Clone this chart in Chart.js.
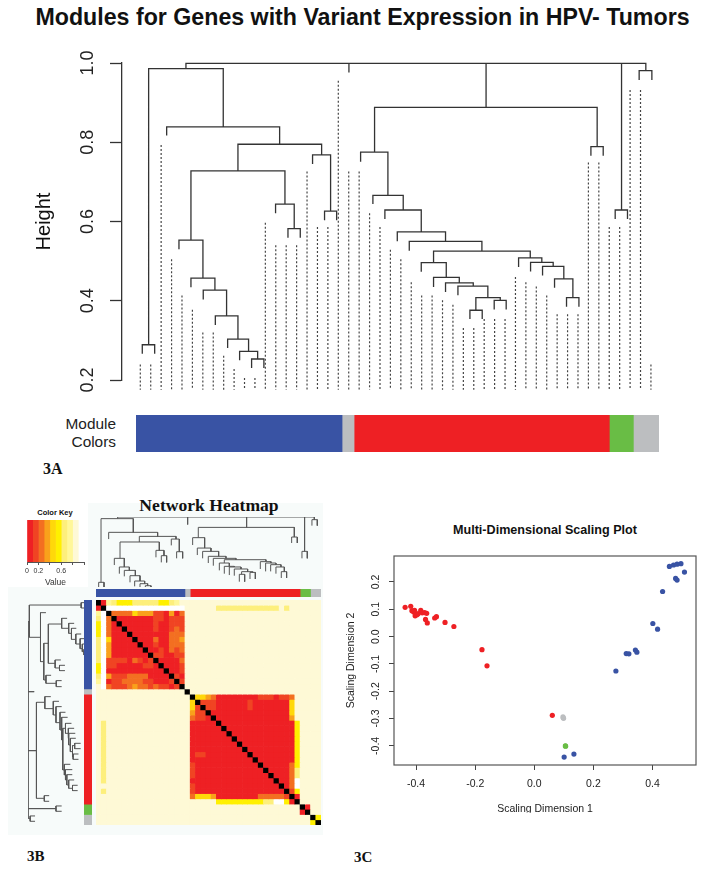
<!DOCTYPE html>
<html>
<head>
<meta charset="utf-8">
<script src="https://cdn.jsdelivr.net/npm/chart.js@4"></script>
<style>
  html, body { margin: 0; padding: 0; background: #fff; }
  body { position: relative; width: 704px; height: 872px; overflow: hidden; font-family: "Liberation Sans", Arial, sans-serif; color: #111; }
  canvas { position: absolute; display: block; }
  canvas.soft { filter: blur(.45px); }
  .txt { position: absolute; white-space: nowrap; line-height: 1; }
  .serif { font-family: "Liberation Serif", serif; font-weight: bold; color: #111; }
  .panel { position: absolute; }
</style>
</head>
<body>
<div class="panel" style="left:8px;top:503px;width:315px;height:332px;background:#f7fbfa"></div>
<div class="panel" style="left:8px;top:503px;width:80px;height:84px;background:#fff"></div>

<div class="txt" style="left:362.5px;top:6px;transform:translateX(-50%);font-size:23.2px;font-weight:bold">Modules for Genes with Variant Expression in HPV- Tumors</div>
<div class="txt" style="right:588px;top:416px;font-size:15.4px;color:#222">Module</div>
<div class="txt" style="right:588px;top:434px;font-size:15.4px;color:#222">Colors</div>
<div class="txt serif" style="left:43px;top:460.5px;font-size:16px">3A</div>
<div class="txt serif" style="left:209px;top:497px;transform:translateX(-50%);font-size:17.6px">Network Heatmap</div>
<div class="txt" style="left:55px;top:509px;transform:translateX(-50%);font-size:7.5px;font-weight:bold">Color Key</div>
<div class="txt serif" style="left:27px;top:849px;font-size:15px">3B</div>
<div class="txt serif" style="left:354px;top:850px;font-size:15px">3C</div>
<div class="txt" style="left:545px;top:524px;transform:translateX(-50%);font-size:12.6px;font-weight:bold">Multi-Dimensional Scaling Plot</div>

<canvas id="dendro" width="704" height="360" style="left:0;top:40px"></canvas>
<canvas id="moduleBar" width="523" height="37" style="left:136px;top:415px"></canvas>
<canvas id="colorKey" class="soft" width="87" height="70" style="left:12px;top:518px"></canvas>
<canvas id="topDendro" class="soft" width="225" height="72" style="left:96px;top:515px"></canvas>
<canvas id="topModules" class="soft" width="225" height="8" style="left:96px;top:589px"></canvas>
<canvas id="leftDendro" class="soft" width="60" height="225" style="left:25px;top:600px"></canvas>
<canvas id="leftModules" class="soft" width="8" height="225" style="left:84px;top:600px"></canvas>
<canvas id="heatmap" class="soft" width="225" height="225" style="left:96px;top:600px"></canvas>
<canvas id="mds" width="364" height="276" style="left:340px;top:540px"></canvas>
<div class="panel" style="left:490px;top:812.5px;width:110px;height:6px;background:#fff"></div>

<script>
// ── DATA ──
// Panel 3A: leaf heights left to right, the dotted drops
const leafTops = [.239, .239, .793, .505, .413, .377, .320, .320, .261, .228, .205, .205, .597, .54, .54, .54, .726, .586, .586, .955,
    .726, .726, .621, .586, .529, .505, .447, .413, .413, .401, .39, .331, .331, .354, .354, .354, .46, .447, .436, .413,
    .366, .366, .366, .749, .749, .586, .586, .932, .932, .239];
const leafBase = .1756;

// Panel 3A: merges, in leaf position and height
const branchLeft = [.19, 10.68, 9.53, 8.38, 7.20, 6.04, 4.86, 3.71, 14.17, 12.98, 4.86, 17.68, 16.53, 9.37, 2.53, .80, 4.38, 20.02, 33.18, 46.18,
    47.87, 45.57, 43.24, 22.48, 21.14, 22.32, 23.47, 24.66, 25.81, 28.14, 26.96, 28.14, 29.29, 30.48, 32.20, 31.63, 33.96, 36.30, 37.45, 38.60, 39.75, 40.90];
const branchRight = [1.38, 11.86, 11.26, 10.39, 9.37, 8.28, 7.16, 6.01, 15.35, 14.77, 13.88, 18.84, 18.26, 17.40, 13.37, 7.96, 48.51, 20.02, 33.18, 46.18,
    49.09, 46.75, 44.42, 43.84, 23.76, 25.23, 26.96, 29.29, 32.78, 37.42, 29.36, 30.61, 31.95, 33.35, 34.54, 32.81, 35.11, 38.53, 39.62, 40.64, 41.51, 42.09];
const branchHeight = [.289, .253, .272, .303, .362, .427, .457, .553, .582, .644, .728, .626, .768, .795, .839, .986, .999, .999, .999, .999,
    .981, .629, .789, .888, .775, .666, .629, .574, .550, .525, .496, .459, .445, .437, .408, .376, .401, .508, .497, .487, .455, .408];
const branchDropL = [.266, .230, .250, .281, .339, .403, .434, .530, .559, .621, .553, .603, .745, .728, .817, .289, .986, .976, .888, .629,
    .957, .606, .766, .775, .751, .644, .606, .550, .526, .496, .473, .435, .422, .414, .376, .354, .378, .485, .474, .464, .433, .385];
const branchDropR = [.266, .230, .253, .272, .303, .362, .427, .457, .559, .582, .644, .603, .626, .768, .795, .839, .981, .976, .888, .629,
    .957, .606, .766, .789, .666, .629, .574, .550, .525, .508, .459, .445, .437, .408, .401, .354, .378, .497, .487, .455, .408, .385];

// Panel 3B: the same tree over the 43 heatmap cells
const miniLeft = [.51, 9.43, 8.41, 7.39, 6.50, 5.41, 4.46, 3.50, 12.48, 11.46, 4.59, 15.41, 14.39, 8.28, 2.42, .96, 4.14, 17.52, 28.79, 39.87,
    41.27, 39.36, 37.39, 19.55, 18.47, 19.36, 20.38, 21.46, 22.42, 24.52, 23.57, 24.52, 25.48, 26.43, 27.83, 27.39, 29.43, 31.40, 32.42, 33.38, 34.39, 35.41];
const miniRight = [1.53, 10.51, 9.87, 9.30, 8.41, 7.52, 6.37, 5.41, 13.50, 12.99, 12.10, 16.56, 15.92, 15.29, 11.78, 7.13, 41.72, 17.52, 28.79, 39.87,
    42.29, 40.38, 38.47, 37.90, 20.76, 21.97, 23.44, 24.84, 26.75, 32.48, 25.48, 26.43, 27.71, 28.98, 29.94, 28.41, 30.45, 33.44, 34.39, 35.35, 35.99, 36.43];
const miniHeight = [.289, .252, .274, .303, .361, .419, .456, .550, .579, .637, .728, .622, .760, .789, .833, .982, 1, 1, 1, 1,
    .971, .626, .782, .887, .775, .662, .626, .572, .550, .535, .499, .463, .456, .434, .405, .376, .397, .514, .499, .481, .456, .405];
const miniDropL = [.238, .238, .238, .245, .289, .354, .383, .477, .506, .561, .550, .550, .691, .728, .760, .289, .982, .917, .887, .626,
    .906, .550, .717, .775, .695, .586, .550, .499, .470, .499, .419, .383, .368, .361, .376, .296, .325, .434, .408, .408, .383, .336];
const miniDropR = [.238, .238, .252, .274, .303, .361, .419, .456, .506, .579, .637, .550, .622, .760, .789, .833, .971, .917, .887, .626,
    .906, .550, .717, .782, .662, .626, .572, .550, .535, .517, .463, .456, .434, .405, .397, .296, .325, .499, .481, .456, .405, .336];

// Module colour bars
const moduleColors = ['#3953a4', '#bcbec0', '#ee2024', '#69bd45', '#bcbec0'];
const moduleSpans50 = [19.7, 1.15, 24.4, 2.3, 2.45];
const moduleSpans43 = [17, 1, 21, 2, 2];

// Colour key, one colour per 0.1 of value
const keyColors = ['#ee2024', '#f04423', '#f36f21', '#f9a11b', '#ffd80a', '#fff000', '#fdef7c', '#fff799', '#fef9d6', '#ffffff'];
const keyBins = [.1, .1, .1, .1, .1, .1, .1, .1, .1, .1];
const keyTickLabels = [0, .2, .6];

// Heatmap, upper triangle: each string starts right after the diagonal, digits are key bins,
// cells past the end of a string are bin 8
const heatRows = [
    '076555666665567',
    '999999999999999888888666666666666' + '86',
    '22224333110302',
    '0000000110111',
    '000000100111',
    '00000100121',
    '0000000222',
    '000200223',
    '00100222',
    '0010212',
    '110011',
    '00002',
    '0001',
    '001',
    '10',
    '1',
    '',
    '',
    '44320000000011101128',
    '1110000001000000048',
    '110000001000000048',
    '00000000000000048',
    '0000000000000038',
    '000000000000005',
    '00000000000005',
    '0000000000005',
    '000000000005',
    '00000000005',
    '0000000005',
    '000000005',
    '00000005',
    '0000025',
    '000026',
    '00026',
    '0029',
    '029',
    '15',
    '0',
    '8',
    '0',
    '',
    '5',
    ''
];

// Panel 3C
const redX = [-.437, -.418, -.414, -.408, -.405, -.403, -.397, -.393, -.384, -.379, -.371, -.364, -.368, -.362, -.337, -.331, -.302, -.272, -.177, -.160, .061];
const redY = [.107, .111, .095, .090, .096, .076, .080, .084, .096, .087, .088, .085, .063, .050, .068, .073, .052, .037, -.048, -.107, -.288];
const blueX = [.101, .134, .276, .311, .320, .342, .347, .401, .417, .434, .457, .471, .483, .496, .508, .478, .483];
const blueY = [-.441, -.430, -.126, -.062, -.063, -.049, -.057, .048, .027, .165, .257, .262, .265, .267, .236, .213, .207];
const grayX = [.097, .098, .099];
const grayY = [-.294, -.297, -.299];
const greenX = [.105, .106];
const greenY = [-.400, -.401];
const mdsTicksX = [-.4, -.2, 0, .2, .4];
const mdsTicksY = [-.4, -.3, -.2, -.1, 0, .1, .2];

// ── HELPERS ──
Chart.defaults.font.family = '"Liberation Sans", Arial, sans-serif';
Chart.defaults.animation = false;
Chart.defaults.responsive = false;
Chart.defaults.plugins.legend.display = false;
Chart.defaults.plugins.tooltip.enabled = false;

const BLACK_CELL = '#000000';
const gap = {x: null, y: null};

// Turn merges into one broken line
function treePoints(left, right, height, dropL, dropR, swap) {
    const pts = [];
    left.forEach((l, i) => {
        const seg = [[l, dropL[i]], [l, height[i]], [right[i], height[i]], [right[i], dropR[i]]];
        seg.forEach(p => pts.push(swap ? {x: p[1], y: p[0]} : {x: p[0], y: p[1]}));
        pts.push(gap);
    });
    return pts;
}

function zip(xs, ys) {
    return xs.map((x, i) => ({x, y: ys[i]}));
}

function lineSet(data, color, width, dash) {
    return {
        data, showLine: true, borderColor: color, borderWidth: width, borderDash: dash || [],
        pointRadius: 0, spanGaps: false, clip: false, borderCapStyle: 'butt', borderJoinStyle: 'miter'
    };
}

function stackedBar(id, spans, colors, horizontal) {
    const total = spans.reduce((a, b) => a + b, 0);
    const valueAxis = {display: false, stacked: true, min: 0, max: total};
    const catAxis = {display: false, stacked: true};
    new Chart(document.getElementById(id), {
        type: 'bar',
        data: {
            labels: ['modules'],
            datasets: spans.map((s, i) => ({data: [s], backgroundColor: colors[i], barPercentage: 1, categoryPercentage: 1}))
        },
        options: {
            indexAxis: horizontal ? 'y' : 'x',
            layout: {padding: 0},
            scales: horizontal ? {x: valueAxis, y: catAxis} : {x: catAxis, y: {...valueAxis, reverse: true}}
        }
    });
}

// ── PANEL 3A ──
const leafPoints = [];
leafTops.forEach((top, i) => {
    leafPoints.push({x: i, y: top}, {x: i, y: leafBase}, gap);
});

new Chart(document.getElementById('dendro'), {
    type: 'scatter',
    data: {
        datasets: [
            lineSet(leafPoints, '#444', 1.2, [2, 2]),
            lineSet(treePoints(branchLeft, branchRight, branchHeight, branchDropL, branchDropR), '#333', 1.3)
        ]
    },
    options: {
        layout: {padding: {top: 23, bottom: 20, right: 44}},
        scales: {
            x: {display: false, min: -1.756, max: 49.87},
            y: {
                min: .2, max: 1, afterFit: s => { s.width = 122; },
                border: {color: '#333', width: 1.3},
                grid: {drawOnChartArea: false, tickLength: 12, color: '#333', tickWidth: 1.3},
                ticks: {stepSize: .2, minRotation: 90, maxRotation: 90, crossAlign: 'center', padding: 9, color: '#222', font: {size: 18}},
                title: {display: true, text: 'Height', color: '#111', font: {size: 20}, padding: {top: 32, bottom: 0}}
            }
        }
    }
});

stackedBar('moduleBar', moduleSpans50, moduleColors, true);

// ── PANEL 3B ──
new Chart(document.getElementById('colorKey'), {
    type: 'bar',
    data: {
        labels: ['key'],
        datasets: keyBins.map((b, i) => ({data: [b], backgroundColor: keyColors[i], barPercentage: 1, categoryPercentage: 1}))
    },
    options: {
        indexAxis: 'y',
        layout: {padding: {left: 15, right: 15, top: 2}},
        scales: {
            x: {
                stacked: true, min: 0, max: 1, afterFit: s => { s.height = 26; },
                border: {color: '#555'},
                grid: {drawOnChartArea: false, tickLength: 3, color: '#555'},
                ticks: {
                    stepSize: .2, maxRotation: 0, autoSkip: false, padding: 2, color: '#333', font: {size: 7},
                    callback: v => keyTickLabels.some(k => Math.abs(k - v) < .001) ? String(+v.toFixed(1)) : ''
                },
                title: {display: true, text: 'Value', color: '#333', font: {size: 8.5}, padding: 0}
            },
            y: {stacked: true, display: false}
        }
    }
});

new Chart(document.getElementById('topDendro'), {
    type: 'scatter',
    data: {datasets: [{...lineSet(treePoints(miniLeft, miniRight, miniHeight, miniDropL, miniDropR), '#555', 1), clip: undefined}]},
    options: {
        layout: {padding: {top: 2}},
        scales: {x: {display: false, min: 0, max: 43}, y: {display: false, min: .238, max: 1}}
    }
});

new Chart(document.getElementById('leftDendro'), {
    type: 'scatter',
    data: {datasets: [{...lineSet(treePoints(miniLeft, miniRight, miniHeight, miniDropL, miniDropR, true), '#555', 1), clip: undefined}]},
    options: {
        layout: {padding: {left: 3}},
        scales: {x: {display: false, min: .238, max: 1, reverse: true}, y: {display: false, min: 0, max: 43, reverse: true}}
    }
});

stackedBar('topModules', moduleSpans43, moduleColors, true);
stackedBar('leftModules', moduleSpans43, moduleColors, false);

// symmetric lookup over the upper triangle
function heatColor(r, c) {
    if (r === c) return BLACK_CELL;
    const a = Math.min(r, c), b = Math.max(r, c);
    const code = heatRows[a][b - a - 1];
    return keyColors[code === undefined ? 8 : +code];
}

const heatIndex = heatRows.map((_, i) => i);
new Chart(document.getElementById('heatmap'), {
    type: 'bar',
    data: {
        labels: heatIndex,
        datasets: heatIndex.map(r => ({
            data: heatIndex.map(() => 1),
            backgroundColor: heatIndex.map(c => heatColor(r, c)),
            barPercentage: 1, categoryPercentage: 1
        }))
    },
    options: {
        layout: {padding: 0},
        scales: {
            x: {display: false, stacked: true},
            y: {display: false, stacked: true, reverse: true, min: 0, max: heatRows.length}
        }
    }
});

// ── PANEL 3C ──
const boxFrame = {
    id: 'boxFrame',
    afterDatasetsDraw(chart) {
        const {ctx, chartArea: a} = chart;
        ctx.save();
        ctx.strokeStyle = '#555';
        ctx.lineWidth = 1.2;
        ctx.strokeRect(a.left, a.top, a.right - a.left, a.bottom - a.top);
        ctx.restore();
    }
};

function pointSet(xs, ys, color) {
    return {data: zip(xs, ys), backgroundColor: color, borderColor: color, pointRadius: 2.6, borderWidth: 0};
}

new Chart(document.getElementById('mds'), {
    type: 'scatter',
    data: {
        datasets: [
            pointSet(redX, redY, moduleColors[2]),
            pointSet(blueX, blueY, moduleColors[0]),
            pointSet(grayX, grayY, moduleColors[1]),
            pointSet(greenX, greenY, moduleColors[3])
        ]
    },
    options: {
        layout: {padding: {top: 16, right: 8}},
        scales: {
            x: {
                min: -.4746, max: .547, afterFit: s => { s.height = 51; },
                afterBuildTicks: s => { s.ticks = mdsTicksX.map(value => ({value})); },
                border: {display: false},
                grid: {drawOnChartArea: false, tickLength: 5, color: '#444'},
                ticks: {maxRotation: 0, padding: 8, color: '#222', font: {size: 10.5}, callback: v => v.toFixed(1)},
                title: {display: true, text: 'Scaling Dimension 1', color: '#222', font: {size: 10.5}, padding: {top: .7, bottom: .7}}
            },
            y: {
                min: -.47, max: .295, afterFit: s => { s.width = 54; },
                afterBuildTicks: s => { s.ticks = mdsTicksY.map(value => ({value})); },
                border: {display: false},
                grid: {drawOnChartArea: false, tickLength: 5, color: '#444'},
                ticks: {minRotation: 90, maxRotation: 90, crossAlign: 'center', padding: 4, color: '#222', font: {size: 10.5}, callback: v => v.toFixed(1)},
                title: {display: true, text: 'Scaling Dimension 2', color: '#222', font: {size: 10.5}, padding: {top: 4.4, bottom: 0}}
            }
        }
    },
    plugins: [boxFrame]
});
</script>
</body>
</html>
